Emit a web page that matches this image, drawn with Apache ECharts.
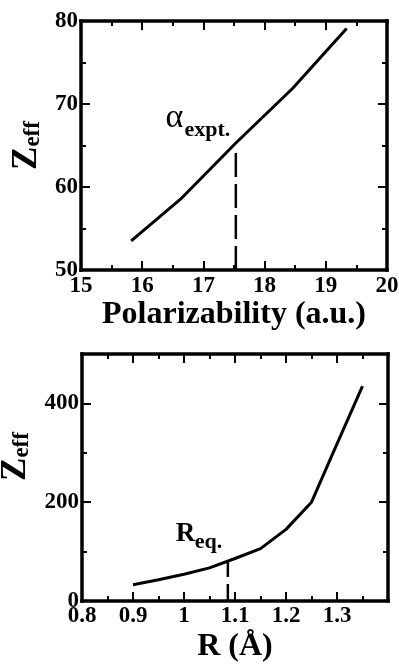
<!DOCTYPE html>
<html>
<head>
<meta charset="utf-8">
<script src="https://cdn.jsdelivr.net/npm/echarts@6/dist/echarts.min.js"></script>
<style>
html,body{margin:0;padding:0;background:#fff;}
#chart{width:399px;height:665px;}
</style>
</head>
<body>
<div id="chart"></div>
<script>
// ---- Data (top panel) ----
const polarX = [15.82, 16.65, 17.53, 18.46, 19.34];
const polarZ = [53.5, 58.7, 65.3, 71.9, 79.1];
const alphaExptX = [17.53, 17.53];
const alphaExptZ = [50, 64.5];
const topXTicks = [15, 16, 17, 18, 19, 20];
const topYTicks = [50, 60, 70, 80];
// ---- Data (bottom panel) ----
const rX = [0.9, 0.95, 1.0, 1.05, 1.1, 1.15, 1.2, 1.25, 1.3, 1.35];
const rZ = [33, 43, 54, 67, 86, 106, 145, 200, 318, 435];
const reqX = [1.086, 1.086];
const reqZ = [0, 80];
const botXTicks = [0.8, 0.9, 1.0, 1.1, 1.2, 1.3];
const botYTicks = [0, 200, 400];
// ---- Annotation anchors (data coords) ----
const alphaLabelPos = [16.39, 66.2];
const exptLabelPos = [16.70, 65.5];
const rLabelPos = [0.985, 108];
const eqLabelPos = [1.022, 95];

const FONT = 'Liberation Serif';
const zip = (a, b) => a.map((v, i) => [v, b[i]]);

function axisCommon(extra) {
  return Object.assign({
    type: 'value',
    axisLine: { show: true, onZero: false, lineStyle: { color: '#000', width: 3.5, cap: 'square' } },
    axisTick: { show: true, inside: true, length: 9, lineStyle: { color: '#000', width: 2 } },
    minorTick: { show: true, splitNumber: 2, length: 5, lineStyle: { color: '#000', width: 2 } },
    splitLine: { show: false },
    minorSplitLine: { show: false },
    axisLabel: { show: false }
  }, extra);
}
const tickLabel = (margin, extra) => Object.assign({
  show: true, margin: margin, color: '#000', fontFamily: FONT, fontWeight: 'bold', fontSize: 23
}, extra || {});
const nameStyle = { color: '#000', fontFamily: FONT, fontWeight: 'bold', fontSize: 32 };

const zeffName = '{z|Z}{s|eff}';
const zeffRich = {
  z: { fontFamily: FONT, fontWeight: 'bold', fontSize: 35, lineHeight: 35, color: '#000', verticalAlign: 'top' },
  s: { fontFamily: FONT, fontWeight: 'bold', fontSize: 23, lineHeight: 23, color: '#000', verticalAlign: 'bottom', padding: [15, 0, 0, 0] }
};

const annLabel = (text, weight, size) => ({
  show: true, formatter: text, fontFamily: FONT, fontWeight: weight, fontSize: size,
  color: '#000', opacity: 1, textBorderWidth: 0, textShadowBlur: 0
});

const option = {
  backgroundColor: '#fff',
  animation: false,
  grid: [
    { left: 81, right: 12, top: 21, height: 249, outerBoundsMode: 'none', containLabel: false },
    { left: 82, right: 11, top: 354, height: 247, outerBoundsMode: 'none', containLabel: false }
  ],
  xAxis: [
    axisCommon({ gridIndex: 0, position: 'bottom', min: topXTicks[0], max: topXTicks[topXTicks.length - 1], interval: 1,
      axisLabel: tickLabel(5), name: 'Polarizability (a.u.)', nameLocation: 'middle', nameGap: 25, nameTextStyle: nameStyle }),
    axisCommon({ gridIndex: 0, position: 'top', min: topXTicks[0], max: topXTicks[topXTicks.length - 1], interval: 1 }),
    axisCommon({ gridIndex: 1, position: 'bottom', min: botXTicks[0], max: 1.4, interval: 0.1,
      axisLabel: tickLabel(4, { showMaxLabel: false }), name: 'R (Å)', nameLocation: 'middle', nameGap: 30, nameTextStyle: nameStyle }),
    axisCommon({ gridIndex: 1, position: 'top', min: botXTicks[0], max: 1.4, interval: 0.1 })
  ],
  yAxis: [
    axisCommon({ gridIndex: 0, position: 'left', min: topYTicks[0], max: topYTicks[topYTicks.length - 1], interval: 10,
      axisLabel: tickLabel(3), name: zeffName, nameLocation: 'middle', nameGap: 35, nameRotate: 90,
      nameTextStyle: { rich: zeffRich } }),
    axisCommon({ gridIndex: 0, position: 'right', min: topYTicks[0], max: topYTicks[topYTicks.length - 1], interval: 10 }),
    axisCommon({ gridIndex: 1, position: 'left', min: botYTicks[0], max: 500, interval: 200,
      axisLabel: tickLabel(3, { showMaxLabel: false }), name: zeffName, nameLocation: 'middle', nameGap: 35, nameRotate: 90,
      nameTextStyle: { rich: zeffRich, padding: [0, 0, 0, 42] } }),
    axisCommon({ gridIndex: 1, position: 'right', min: botYTicks[0], max: 500, interval: 200 })
  ],
  series: [
    { type: 'line', xAxisIndex: 0, yAxisIndex: 0, data: zip(polarX, polarZ), symbol: 'none',
      lineStyle: { color: '#000', width: 3 } },
    { type: 'line', xAxisIndex: 0, yAxisIndex: 0, data: zip(alphaExptX, alphaExptZ), symbol: 'none',
      lineStyle: { color: '#000', width: 2.5, type: [24, 7] } },
    { type: 'line', xAxisIndex: 2, yAxisIndex: 2, data: zip(rX, rZ), symbol: 'none',
      lineStyle: { color: '#000', width: 3 } },
    { type: 'line', xAxisIndex: 2, yAxisIndex: 2, data: zip(reqX, reqZ), symbol: 'none',
      lineStyle: { color: '#000', width: 2.5, type: [17, 7] } },
    { type: 'scatter', xAxisIndex: 0, yAxisIndex: 0, symbolSize: 1, itemStyle: { opacity: 0 }, silent: true,
      data: [{ value: alphaLabelPos, label: annLabel('α', 'normal', 34) },
             { value: exptLabelPos, label: annLabel('expt.', 'bold', 22) }],
      label: { show: true, position: [0, 0], align: 'left', verticalAlign: 'bottom', color: '#000', opacity: 1 } },
    { type: 'scatter', xAxisIndex: 2, yAxisIndex: 2, symbolSize: 1, itemStyle: { opacity: 0 }, silent: true,
      data: [{ value: rLabelPos, label: annLabel('R', 'bold', 27) },
             { value: eqLabelPos, label: annLabel('eq.', 'bold', 22) }],
      label: { show: true, position: [0, 0], align: 'left', verticalAlign: 'bottom', color: '#000', opacity: 1 } }
  ]
};
const chart = echarts.init(document.getElementById('chart'), null, { renderer: 'canvas' });
chart.setOption(option);
</script>
</body>
</html>
